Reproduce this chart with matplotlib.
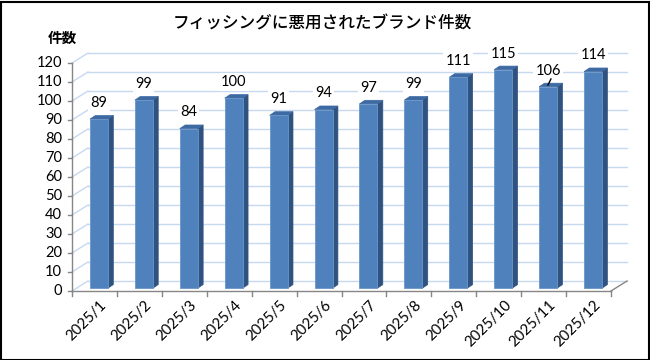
import matplotlib
matplotlib.use("Agg")
import matplotlib.pyplot as plt
from matplotlib.patches import Polygon, Rectangle

plt.rcParams['font.family'] = ['Lato', 'Noto Sans CJK JP', 'DejaVu Sans']

categories = ["2025/1", "2025/2", "2025/3", "2025/4", "2025/5", "2025/6",
              "2025/7", "2025/8", "2025/9", "2025/10", "2025/11", "2025/12"]
values = [89, 99, 84, 100, 91, 94, 97, 99, 111, 115, 106, 114]
yticks = list(range(0, 121, 10))
title = "フィッシングに悪用されたブランド件数"
ylabel = "件数"

fig = plt.figure(figsize=(6.5, 3.6), dpi=100)
ax = fig.add_axes([72/650, (360-291)/360, 555/650, 238/360])
D = 16/44.92   # depth offset in x (category units)
E = 10/1.9     # depth offset in y (value units)
n = len(categories)
ax.set_xlim(-0.5, n - 0.5 + D)
ax.set_ylim(0, 120 + E)
ax.axis('off')

grid_c = '#c6d9f1'
axis_c = '#868686'
# back wall gridlines + left wall diagonals
for v in yticks:
    ax.plot([-0.5, -0.5 + D], [v, v + E], color=grid_c, lw=1.0, zorder=1, clip_on=False)
    ax.plot([-0.5 + D, n - 0.5 + D], [v + E, v + E], color=grid_c, lw=1.0, zorder=1, clip_on=False)

# floor front edge and right diagonal
ax.plot([-0.5, n - 0.5], [0, 0], color=axis_c, lw=1.0, zorder=2, clip_on=False)
ax.plot([n - 0.5, n - 0.5 + D], [0, E], color=axis_c, lw=1.0, zorder=2, clip_on=False)
# y axis
ax.plot([-0.5, -0.5], [0, 120], color=axis_c, lw=1.0, zorder=2, clip_on=False)
ytick_len = 4/44.92
for v in yticks:
    ax.plot([-0.5 - ytick_len, -0.5], [v, v], color=axis_c, lw=1.0, zorder=2, clip_on=False)
    ax.text(-0.5 - 0.22, v, str(v), ha='right', va='center', fontsize=10.5,
            color='black', clip_on=False)
# x ticks
for k in range(n + 1):
    ax.plot([k - 0.5, k - 0.5], [0, -5/1.9], color=axis_c, lw=1.0, zorder=2, clip_on=False)

# bars
f = 0.28
bw = 0.4
bdx = 0.12
bdy = 1.9
front_c = '#4f81bd'
side_c = '#2f5280'
top_c = '#3d6aa3'
for i, v in enumerate(values):
    x0 = i - bw/2 + f*D
    x1 = x0 + bw
    y0 = f*E
    y1 = v + f*E
    side = Polygon([(x1, y0), (x1 + bdx, y0 + bdy), (x1 + bdx, y1 + bdy), (x1, y1)],
                   closed=True, facecolor=side_c, edgecolor=side_c, lw=0.5, zorder=3, clip_on=False)
    top = Polygon([(x0, y1), (x0 + bdx, y1 + bdy), (x1 + bdx, y1 + bdy), (x1, y1)],
                  closed=True, facecolor=top_c, edgecolor=top_c, lw=0.5, zorder=3, clip_on=False)
    front = Rectangle((x0, y0), bw, v, facecolor=front_c, edgecolor='#6b96c8', lw=0.6,
                      zorder=4, clip_on=False)
    ax.add_patch(side)
    ax.add_patch(top)
    ax.add_patch(front)
    ax.text(i + f*D, v + 10, str(v), ha='center', va='center', fontsize=10.5,
            color='black', zorder=6, clip_on=False,
            bbox=dict(boxstyle='square,pad=0.15', facecolor='white', edgecolor='none'))
    ax.text(i + 0.12, -7/1.9, categories[i], ha='right', va='top', rotation=45,
            rotation_mode='anchor', fontsize=10.8, color='black', clip_on=False)

# leader line for 106
ax.plot([10.097, 10.163], [108.4, 111.6], color='black', lw=1.0, zorder=7, clip_on=False)

fig.text(322/650, 1 - 24/360, title, ha='center', va='center', fontsize=12,
         fontweight='medium', family=['Noto Sans CJK JP', 'DejaVu Sans'])
fig.text(62/650, 1 - 38/360, ylabel, ha='center', va='center', fontsize=10.5,
         fontweight='bold', family=['Noto Sans CJK JP', 'DejaVu Sans'])

fig.patches.append(Rectangle((0.5/650, 0.5/360), 648/650, 358/360, transform=fig.transFigure,
                             fill=False, edgecolor='black', lw=1.5))

fig.savefig('out.png', dpi=100)
